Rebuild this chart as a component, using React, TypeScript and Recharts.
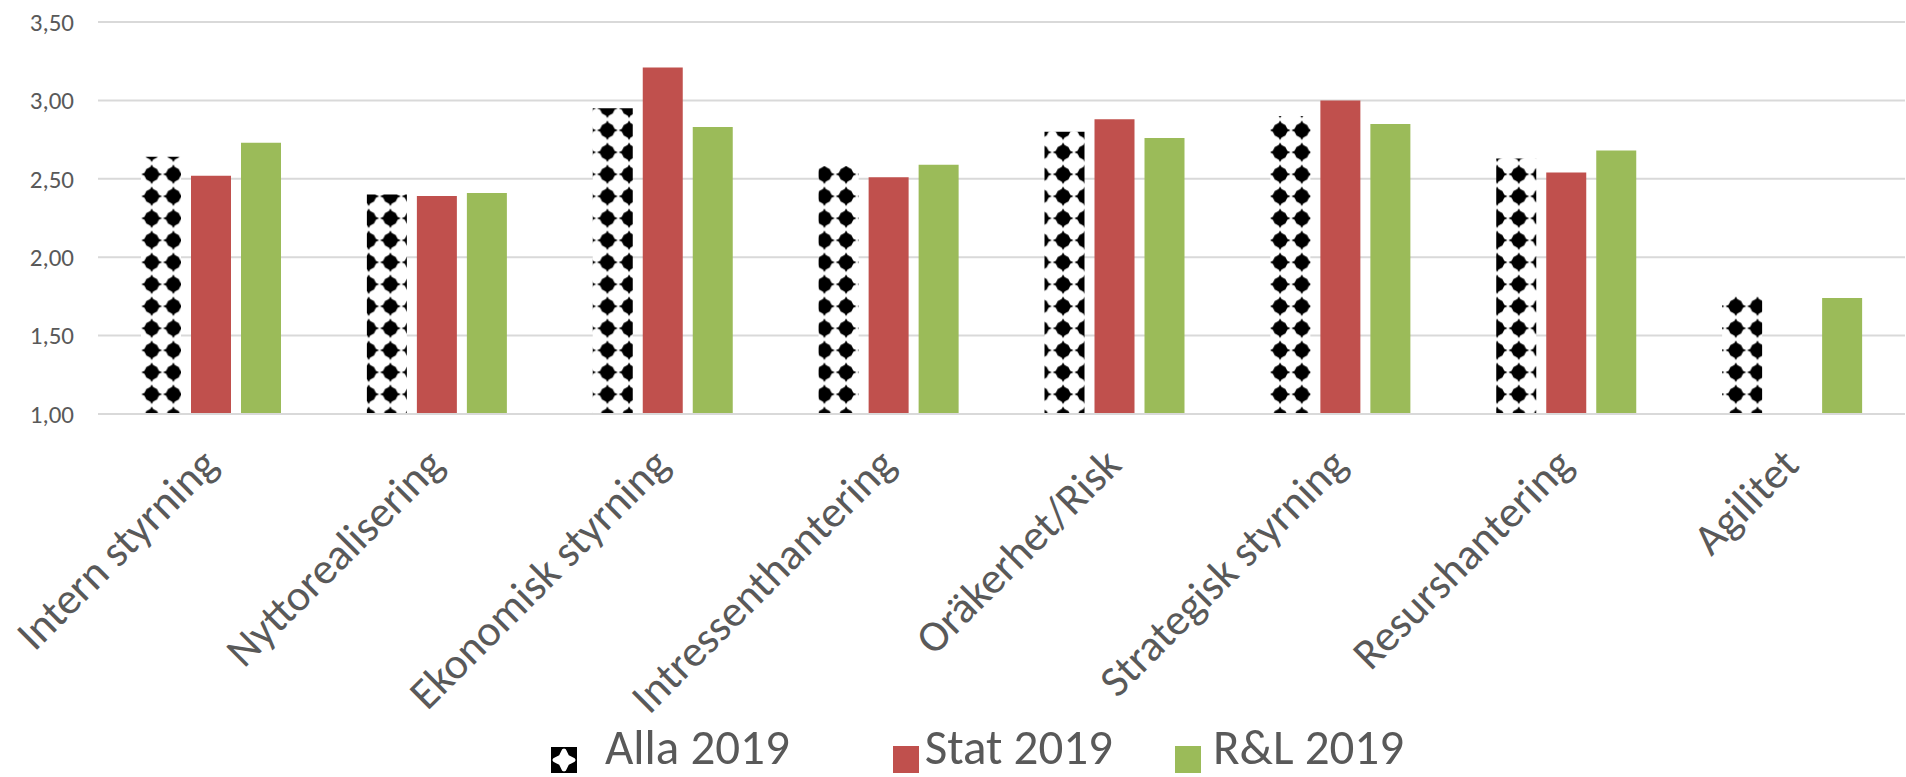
import { BarChart, Bar, XAxis, YAxis, CartesianGrid, Legend } from 'recharts'

// ── Data ──────────────────────────────────────────────────────────────────────
const CATEGORIES = [
  'Intern styrning',
  'Nyttorealisering',
  'Ekonomisk styrning',
  'Intressenthantering',
  'Oräkerhet/Risk',
  'Strategisk styrning',
  'Resurshantering',
  'Agilitet',
]
const ALLA_2019 = [2.64, 2.40, 2.95, 2.58, 2.80, 2.90, 2.63, 1.76]
const STAT_2019: (number | null)[] = [2.52, 2.39, 3.21, 2.51, 2.88, 3.00, 2.54, null]
const RL_2019 = [2.73, 2.41, 2.83, 2.59, 2.76, 2.85, 2.68, 1.74]
const Y_TICKS = [1, 1.5, 2, 2.5, 3, 3.5]

const SERIES = [
  { key: 'alla', name: 'Alla 2019', fill: 'url(#allaDiamonds)' },
  { key: 'stat', name: 'Stat 2019', fill: '#C0504D' },
  { key: 'rl', name: 'R&L 2019', fill: '#9BBB59' },
]

const data = CATEGORIES.map((name, i) => ({
  name,
  alla: ALLA_2019[i],
  stat: STAT_2019[i],
  rl: RL_2019[i],
}))

// ── Style ─────────────────────────────────────────────────────────────────────
const FONT = 'Carlito, Calibri, Lato, sans-serif'
const TEXT = '#595959'
const GRID = '#D9D9D9'

// four-pointed diamond used by the "Alla" hatch
const STAR = [
  [0, -9.8], [1.5, -7.2], [5.3, -5.3], [7.2, -1.5], [10.4, 0], [7.2, 1.5], [5.3, 5.3], [1.5, 7.2],
  [0, 9.8], [-1.5, 7.2], [-5.3, 5.3], [-7.2, 1.5], [-10.4, 0], [-7.2, -1.5], [-5.3, -5.3], [-1.5, -7.2],
]
function starPoints(cx: number, cy: number, s = 1) {
  return STAR.map(([dx, dy]) => `${cx + dx * s},${cy + dy * s}`).join(' ')
}

const fmt = (v: number) => v.toFixed(2).replace('.', ',')

// ── Ticks ─────────────────────────────────────────────────────────────────────
// eslint-disable-next-line @typescript-eslint/no-explicit-any
function XTick(props: any) {
  const { x, y, payload } = props
  const ax = x + 9
  const ay = y + 51
  return (
    <text
      x={ax}
      y={ay}
      transform={`rotate(-45, ${ax}, ${ay})`}
      textAnchor="end"
      fill={TEXT}
      fontSize={44}
      fontFamily={FONT}
    >
      {payload.value}
    </text>
  )
}

// ── Legend ────────────────────────────────────────────────────────────────────
function AllaIcon() {
  return (
    <svg width={26} height={26} style={{ display: 'block' }}>
      <rect width={26} height={26} fill="#fff" />
      <polygon points={starPoints(0, 0, 1.55)} fill="#000" />
      <polygon points={starPoints(26, 0, 1.55)} fill="#000" />
      <polygon points={starPoints(0, 26, 1.55)} fill="#000" />
      <polygon points={starPoints(26, 26, 1.55)} fill="#000" />
    </svg>
  )
}

// spacing
const ICON_GAP = [28, 6, 12]
const ITEM_GAP = [103, 62, 0]

function LegendBox() {
  return (
    <div style={{ height: 73, display: 'flex', alignItems: 'flex-start', paddingLeft: 551, boxSizing: 'border-box' }}>
      {SERIES.map((s, i) => (
        <div key={s.key} style={{ display: 'flex', alignItems: 'flex-start', marginRight: ITEM_GAP[i] }}>
          <div style={{ marginTop: 43, marginRight: ICON_GAP[i] }}>
            {s.key === 'alla' ? (
              <AllaIcon />
            ) : (
              <div style={{ width: 26, height: 27, marginTop: -1, background: s.fill }} />
            )}
          </div>
          <span style={{ marginTop: 18, fontSize: 49, lineHeight: '50px', color: TEXT, fontFamily: FONT, whiteSpace: 'nowrap' }}>
            {s.name}
          </span>
        </div>
      ))}
    </div>
  )
}

// ── Main ──────────────────────────────────────────────────────────────────────
export default function App() {
  return (
    <div style={{ position: 'absolute', left: 0, top: 0, width: 1906, height: 777, background: '#fff' }}>
      <BarChart
        width={1906}
        height={777}
        data={data}
        margin={{ top: 22, right: 1, bottom: 0, left: 0 }}
        barSize={40}
        barGap={10}
      >
        <defs>
          <pattern
            id="allaDiamonds"
            patternUnits="userSpaceOnUse"
            x={140.85}
            y={163.3}
            width={21.7}
            height={22}
          >
            <rect width={21.7} height={22} fill="#fff" />
            <polygon points={starPoints(10.85, 11)} fill="#000" />
          </pattern>
        </defs>
        <CartesianGrid vertical={false} stroke={GRID} strokeWidth={2} />
        <XAxis
          dataKey="name"
          interval={0}
          tickLine={false}
          tickSize={0}
          axisLine={{ stroke: GRID, strokeWidth: 2 }}
          height={290}
          tick={<XTick />}
        />
        <YAxis
          domain={[1, 3.5]}
          ticks={Y_TICKS}
          tickFormatter={fmt}
          width={98}
          axisLine={false}
          tickLine={false}
          tickSize={0}
          tickMargin={24}
          tick={{ fill: TEXT, fontSize: 25, fontFamily: FONT }}
        />
        <Legend
          verticalAlign="bottom"
          wrapperStyle={{ left: 0, width: 1906, bottom: 0, height: 73 }}
          content={() => <LegendBox />}
        />
        {SERIES.map((s) => (
          <Bar key={s.key} dataKey={s.key} name={s.name} fill={s.fill} isAnimationActive={false} />
        ))}
      </BarChart>
    </div>
  )
}
